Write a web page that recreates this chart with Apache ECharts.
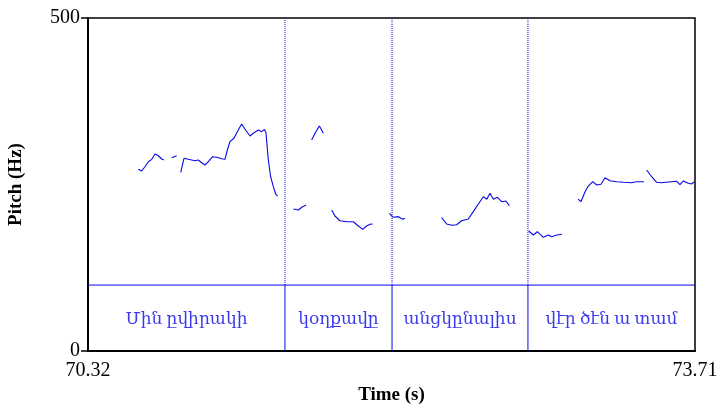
<!DOCTYPE html>
<html lang="hy">
<head>
    <meta charset="UTF-8">
    <title>Pitch</title>
    <script src="https://cdn.jsdelivr.net/npm/echarts@6.0.0/dist/echarts.min.js"></script>
    <style>
        html, body { margin: 0; padding: 0; background: #fff; }
        #chart { width: 721px; height: 404px; }
    </style>
</head>
<body>
    <div id="chart"></div>

    <script>
        // time range (s) and pitch range (Hz)
        const timeRange = [70.32, 73.71];
        const pitchRange = [0, 500];

        // pitch contour pieces, [time, Hz]
        const contour1 = [[70.601, 272.8], [70.620, 270.3], [70.638, 276.7], [70.657, 284.2], [70.676, 287.8],
            [70.694, 295.8], [70.713, 293.2], [70.732, 288.3], [70.744, 286.8]];
        const contour2 = [[70.787, 290.2], [70.815, 293.2]];
        const contour3 = [[70.838, 268.3], [70.856, 289.3], [70.880, 287.8], [70.918, 285.7], [70.936, 286.8],
            [70.955, 282.7], [70.973, 279.3], [70.992, 284.2], [71.016, 291.7], [71.039, 290.8],
            [71.067, 288.7], [71.085, 287.8], [71.098, 301.8], [71.113, 314.3], [71.135, 319.4],
            [71.154, 329.3], [71.178, 340.8], [71.197, 332.9], [71.225, 322.8], [71.243, 326.9],
            [71.271, 331.8], [71.290, 329.3], [71.305, 332.9], [71.314, 327.8], [71.327, 286.8],
            [71.340, 261.7], [71.355, 246.7], [71.368, 235.7], [71.379, 232.7]];
        const contour4 = [[71.467, 213.2], [71.495, 211.7], [71.514, 215.8], [71.538, 219.2]];
        const contour5 = [[71.569, 316.8], [71.588, 326.9], [71.612, 337.8], [71.625, 331.8], [71.634, 326.9]];
        const contour6 = [[71.681, 211.7], [71.699, 202.7], [71.727, 195.6], [71.765, 194.1], [71.802, 194.1],
            [71.830, 187.7], [71.854, 182.7], [71.876, 187.7], [71.895, 190.2], [71.910, 190.7]];
        const contour7 = [[72.003, 206.8], [72.025, 200.8], [72.053, 201.7], [72.078, 197.8], [72.090, 199.3]];
        const contour8 = [[72.295, 200.2], [72.323, 190.7], [72.351, 188.7], [72.379, 189.6], [72.407, 195.6],
            [72.444, 198.2], [72.472, 209.2], [72.500, 220.7], [72.528, 231.7], [72.547, 227.8],
            [72.565, 236.8], [72.584, 227.8], [72.606, 230.8], [72.631, 224.2], [72.654, 225.2],
            [72.673, 218.2]];
        const contour9 = [[72.781, 180.2], [72.807, 174.2], [72.829, 179.1], [72.863, 170.7], [72.891, 174.2],
            [72.910, 171.6], [72.938, 174.2], [72.966, 175.2]];
        const contour10 = [[73.058, 227.8], [73.073, 224.2], [73.096, 239.2], [73.114, 247.7], [73.139, 254.2],
            [73.161, 249.2], [73.185, 250.3], [73.207, 260.2], [73.235, 255.7], [73.273, 254.2],
            [73.310, 253.3], [73.356, 252.7], [73.384, 254.2], [73.425, 254.2]];
        const contour11 = [[73.440, 271.8], [73.468, 261.7], [73.496, 253.3], [73.524, 252.7], [73.561, 253.8],
            [73.608, 254.8], [73.626, 249.7], [73.645, 255.3], [73.672, 251.8], [73.691, 250.8],
            [73.704, 253.8]];
        const contours = [contour1, contour2, contour3, contour4, contour5, contour6,
            contour7, contour8, contour9, contour10, contour11];

        // text tier: word boundaries (s) and labels
        const boundaries = [71.42, 72.018, 72.777];
        const words = ['Մին ըվիրակի', 'կօղքավը', 'անցկընալիս', 'վէր ծէն ա տամ'];
        const tierTop = 99;     // tier band drawn from 0 to this (Hz scale)
        const labelLevel = 47;

        const blue = '#0808e6';
        const serif = "'Liberation Serif', 'DejaVu Serif', serif";

        const chart = echarts.init(document.getElementById('chart'));

        const edges = [timeRange[0], ...boundaries, timeRange[1]];
        const wordData = words.map((w, i) => [(edges[i] + edges[i + 1]) / 2, labelLevel, w]);

        // plain helper for a straight blue line through the axes
        const segLine = (data, type, width) => ({
            type: 'line',
            data: data,
            showSymbol: false,
            symbol: 'none',
            silent: true,
            color: blue,
            lineStyle: { color: blue, width: width, type: type }
        });

        const contourSeries = contours.map(seg => segLine(seg, 'solid', 1.1));

        const tierSeries = [segLine([[timeRange[0], tierTop], [timeRange[1], tierTop]], 'solid', 1)];
        boundaries.forEach(b => {
            tierSeries.push(segLine([[b, pitchRange[0]], [b, tierTop]], 'solid', 1));
            tierSeries.push(segLine([[b, tierTop], [b, pitchRange[1]]], [1, 1], 1));
        });

        const option = {
            animation: false,
            grid: {
                left: 88, right: 26, top: 18, bottom: 53,
                show: true, borderColor: '#000', borderWidth: 1.5,
                outerBoundsMode: 'none'
            },
            xAxis: {
                type: 'value',
                min: timeRange[0],
                max: timeRange[1],
                name: 'Time (s)',
                nameLocation: 'middle',
                nameGap: 34,
                nameTextStyle: { fontFamily: serif, fontSize: 19, fontWeight: 'bold', color: '#000' },
                axisLine: { lineStyle: { color: '#000', width: 2 } },
                axisTick: { show: false },
                splitLine: { show: false },
                axisLabel: {
                    customValues: timeRange,
                    formatter: v => v.toFixed(2),
                    margin: 10,
                    fontFamily: serif, fontSize: 20, color: '#000'
                }
            },
            yAxis: {
                type: 'value',
                min: pitchRange[0],
                max: pitchRange[1],
                name: 'Pitch (Hz)',
                nameLocation: 'middle',
                nameRotate: 90,
                nameGap: 62,
                nameTextStyle: { fontFamily: serif, fontSize: 19, fontWeight: 'bold', color: '#000' },
                axisLine: { show: true, lineStyle: { color: '#000', width: 2 } },
                axisTick: { show: true, customValues: pitchRange, length: 7, lineStyle: { color: '#000', width: 1.5 } },
                splitLine: { show: false },
                axisLabel: {
                    customValues: pitchRange,
                    margin: 8,
                    fontFamily: serif, fontSize: 20, color: '#000'
                }
            },
            series: [
                ...tierSeries,
                ...contourSeries,
                {
                    type: 'scatter',
                    data: wordData,
                    symbolSize: 0,
                    silent: true,
                    label: {
                        show: true,
                        position: 'inside',
                        formatter: p => p.data[2],
                        fontFamily: serif,
                        fontSize: 17,
                        color: blue
                    }
                }
            ]
        };

        chart.setOption(option);
    </script>
</body>
</html>
